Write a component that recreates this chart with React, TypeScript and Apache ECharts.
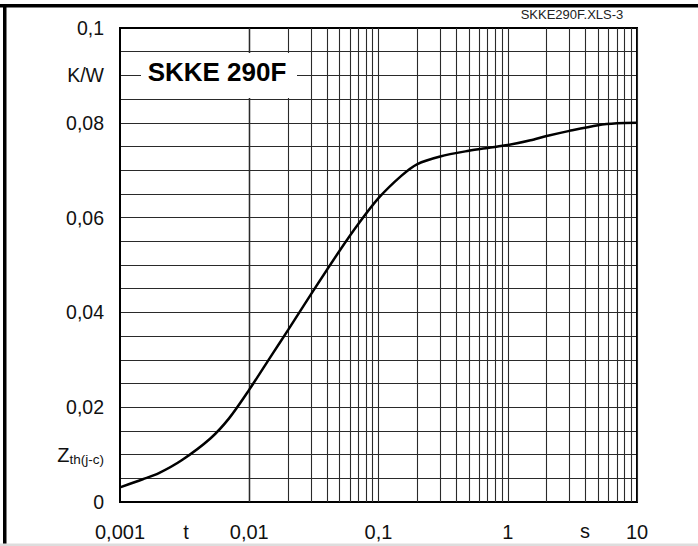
import React, { useEffect, useRef } from "react";
import * as echarts from "echarts";

// Transient thermal impedance Zth(j-c) vs time t
const timeS = [0.001, 0.0015, 0.002, 0.003, 0.005, 0.007, 0.01, 0.015, 0.02, 0.03, 0.05, 0.07, 0.1, 0.15, 0.2, 0.3, 0.5, 0.7, 1, 1.5, 2, 3, 5, 7, 10];
const zthKW = [0.0031, 0.0048, 0.0061, 0.0088, 0.0134, 0.0177, 0.0237, 0.0311, 0.0363, 0.0438, 0.053, 0.0587, 0.0641, 0.0688, 0.0713, 0.0729, 0.0741, 0.0747, 0.0753, 0.0763, 0.0772, 0.0783, 0.0795, 0.0799, 0.08];

// Axis labels
const xDecades = [0.001, 0.01, 0.1, 1];
const xTickLabels: Record<string, string> = { "-3": "0,001", "-2": "0,01", "-1": "0,1", "0": "1", "1": "10" };
const yTickLabels: Record<string, string> = { "0": "0", "20": "0,02", "40": "0,04", "60": "0,06", "80": "0,08", "100": "0,1", "90": "K/W", "10": "{z|Z}{sub|th(j-c)}" };
const gridMultiples = [2, 3, 4, 5, 6, 7, 8, 9, 10];

const FONT = "'Liberation Sans', Arial, Helvetica, sans-serif";

export default function App() {
  const ref = useRef<HTMLDivElement>(null);
  useEffect(() => {
    if (!ref.current) return;
    const chart = echarts.init(ref.current, null, { renderer: "svg" });
    const gridLinesX: { xAxis: number }[] = [];
    xDecades.forEach((d) => gridMultiples.forEach((m) => gridLinesX.push({ xAxis: d * m })));
    chart.setOption({
      animation: false,
      backgroundColor: "#fff",
      grid: { left: 120, top: 28, right: 61, bottom: 44, show: true, borderColor: "#000", borderWidth: 2, backgroundColor: "transparent", z: 3 },
      xAxis: {
        type: "log",
        logBase: 10,
        min: 0.001,
        max: 10,
        axisLine: { show: false },
        axisTick: { show: false },
        splitLine: { show: false },
        axisLabel: {
          margin: 20,
          fontSize: 20,
          color: "#111",
          fontFamily: FONT,
          formatter: (v: number) => xTickLabels[String(Math.round(Math.log10(v)))] ?? "",
        },
      },
      yAxis: {
        type: "value",
        min: 0,
        max: 0.1,
        interval: 0.005,
        axisLine: { show: false },
        axisTick: { show: false },
        splitLine: { show: true, lineStyle: { color: "#2a2a2a", width: 1.1 } },
        axisLabel: {
          margin: 16,
          fontSize: 19.5,
          color: "#111",
          fontFamily: FONT,
          formatter: (v: number) => yTickLabels[String(Math.round(v * 1000))] ?? "",
          rich: {
            z: { fontSize: 20, fontFamily: FONT, color: "#111" },
            sub: { fontSize: 13.5, fontFamily: FONT, color: "#111", padding: [10, 0, 0, 0] },
          },
        },
      },
      series: [
        {
          type: "line",
          data: timeS.map((t, i) => [t, zthKW[i]]),
          smooth: 0.3,
          showSymbol: false,
          lineStyle: { color: "#000", width: 2.5 },
          z: 5,
          markLine: {
            silent: true,
            symbol: ["none", "none"],
            label: { show: false },
            lineStyle: { type: "solid", color: "#2a2a2a", width: 1.1 },
            data: gridLinesX,
          },
        },
      ],
      graphic: [
        { type: "rect", shape: { x: 141, y: 53, width: 156, height: 45 }, style: { fill: "#fff" }, z: 100 },
        { type: "text", x: 217, y: 72, style: { text: "SKKE 290F", font: `bold 26px ${FONT}`, fill: "#000", textAlign: "center", textVerticalAlign: "middle" }, z: 101 },
        { type: "text", x: 572, y: 14, style: { text: "SKKE290F.XLS-3", font: `13px ${FONT}`, fill: "#222", textAlign: "center", textVerticalAlign: "middle" }, z: 101 },
        { type: "text", x: 186, y: 532, style: { text: "t", font: `20px ${FONT}`, fill: "#111", textAlign: "center", textVerticalAlign: "middle" }, z: 101 },
        { type: "text", x: 585, y: 531, style: { text: "s", font: `20px ${FONT}`, fill: "#111", textAlign: "center", textVerticalAlign: "middle" }, z: 101 },
        { type: "rect", shape: { x: 0, y: 4, width: 698, height: 3.5 }, style: { fill: "#000" }, z: 101 },
        { type: "rect", shape: { x: 3, y: 4, width: 3.5, height: 542 }, style: { fill: "#000" }, z: 101 },
        { type: "rect", shape: { x: 0, y: 543.5, width: 698, height: 2.5 }, style: { fill: "#ddd" }, z: 101 },
      ],
    });
    return () => chart.dispose();
  }, []);
  return <div ref={ref} style={{ position: "fixed", left: 0, top: 0, width: 698, height: 546 }} />;
}
